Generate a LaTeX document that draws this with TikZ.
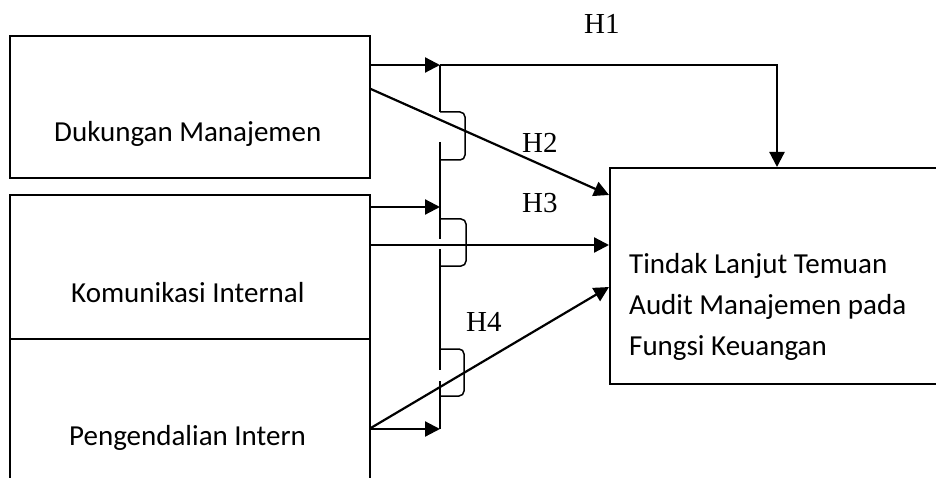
\documentclass[tikz,border=0pt]{standalone}
\usepackage{fontspec}
\newfontfamily\carl{Carlito}
\newfontfamily\tms{Liberation Serif}
\usetikzlibrary{arrows.meta}
\begin{document}
\begin{tikzpicture}[x=1pt,y=-1pt,
  box/.style={draw, line width=1.8pt, inner sep=0pt, anchor=north west},
  lbl/.style={font=\carl\fontsize{29}{41}\selectfont, anchor=base west, inner sep=0pt},
  hyp/.style={font=\tms\fontsize{29}{32}\selectfont, anchor=base west, inner sep=0pt},
  arr/.style={line width=2.2pt, -{Triangle[length=15pt,width=15pt]}},
  bar/.style={line width=1.8pt},
  brk/.style={line width=1.5pt, rounded corners=5pt}]
\useasboundingbox (0,0) rectangle (936,478);
\clip (0,0) rectangle (936,478);
% boxes
\node[box, minimum width=360pt, minimum height=142pt] (dm) at (9,35) {};
\node[box, minimum width=360pt, minimum height=144pt] (ki) at (9,194) {};
\node[box, minimum width=360pt, minimum height=170pt] (pi) at (9,338) {};
\node[box, minimum width=345pt, minimum height=216pt] (tl) at (609,167) {};
% texts
\node[lbl] (tdm) at (54,142) {Dukungan Manajemen};
\node[lbl] (tki) at (71,302) {Komunikasi Internal};
\node[lbl] (tpi) at (69,445) {Pengendalian Intern};
\node[lbl] (tl1) at (629,273) {Tindak Lanjut Temuan};
\node[lbl] (tl2) at (629,314) {Audit Manajemen pada};
\node[lbl] (tl3) at (629,355) {Fungsi Keuangan};
\node[hyp] (h1) at (584,34) {H1};
\node[hyp] (h2) at (522,153) {H2};
\node[hyp] (h3) at (522,213) {H3};
\node[hyp] (h4) at (466,331) {H4};
% junction coordinates on the vertical bar
\coordinate (v1) at (440,65);
\coordinate (v2) at (440,207);
\coordinate (v3) at (440,429);
\coordinate (h1c) at (777,65);
% vertical bar with jump brackets
\draw[bar] (v1) -- (440,112);
\draw[brk] (440,112) -- (465,112) -- (465,160) -- (440,160);
\draw[bar] (440,142) -- (440,239);
\draw[brk] (440,219) -- (466,219) -- (466,266) -- (440,266);
\draw[bar] (440,249) -- (440,370);
\draw[brk] (440,349) -- (464,349) -- (464,396) -- (440,396);
\draw[bar] (440,381) -- (v3);
% arrows to the bar
\draw[arr] ([yshift=-30pt]dm.north east) -- (v1);
\draw[arr] ([yshift=-13pt]ki.north east) -- (v2);
\draw[arr] ([yshift=-91pt]pi.north east) -- (v3);
% H1
\draw[arr] (v1) -- (h1c) -- (tl.north -| h1c);
% H2, H3, H4
\draw[arr] ([yshift=-54pt]dm.north east) -- ([yshift=-28pt]tl.north west);
\draw[arr] ([yshift=-51pt]ki.north east) -- ([yshift=-78pt]tl.north west);
\draw[arr] ([yshift=-90pt]pi.north east) -- ([yshift=-120pt]tl.north west);
\end{tikzpicture}
\end{document}
